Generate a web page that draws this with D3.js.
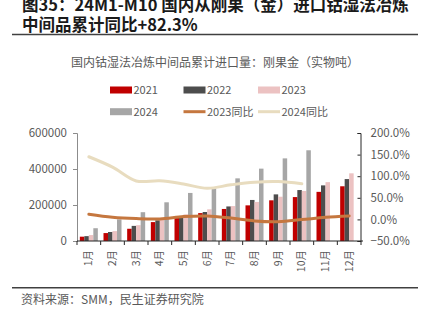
<!DOCTYPE html>
<html>
<head>
<meta charset="utf-8">
<script src="https://cdn.jsdelivr.net/npm/d3@7"></script>
<style>
  body { margin: 0; background: #fff; }
  svg { display: block; font-family: "Noto Sans CJK SC", "Noto Sans", sans-serif; }
</style>
</head>
<body>
<div id="chart"></div>
<script>
// months and values
const months = ["1月", "2月", "3月", "4月", "5月", "6月", "7月", "8月", "9月", "10月", "11月", "12月"];
const v2021 = [24000, 44000, 68000, 105000, 131000, 155000, 178000, 198000, 226000, 244000, 273000, 304000];
const v2022 = [27000, 50000, 84000, 115000, 139000, 161000, 192000, 228000, 259000, 283000, 309000, 344000];
const v2023 = [33000, 55000, 88000, 125000, 148000, 176000, 194000, 217000, 246000, 278000, 327000, 376000];
const v2024 = [71000, 120000, 160000, 215000, 267000, 292000, 348000, 402000, 459000, 504000, null, null];
const yoy2023 = [12, 5, 1.8, 1, 6.5, 8, 3, -3.5, -5.3, -0.5, 4.9, 8];
const yoy2024 = [145, 121, 89, 89.5, 82, 72, 80, 86, 87.5, 82.3, null, null];
const leftTicks = [0, 200000, 400000, 600000];
const rightTicks = [-50, 0, 50, 100, 150, 200];

const barKeys = ["2021", "2022", "2023", "2024"];
const barSeries = [v2021, v2022, v2023, v2024];
const barColors = ["#c00000", "#4d4d4d", "#ecc2c2", "#a6a6a6"];
const lineColors = { "2023同比": "#c5773f", "2024同比": "#e8dcbf" };

const W = 428, H = 328;
const plot = { left: 77, right: 361, top: 133, bottom: 241 };

const svg = d3.select("#chart").append("svg")
    .attr("width", W)
    .attr("height", H);

// title
svg.append("text")
    .attr("x", 22).attr("y", 11)
    .attr("font-size", 16.5).attr("font-weight", "bold").attr("fill", "#1a1a1a")
    .text("图35：24M1-M10 国内从刚果（金）进口钴湿法冶炼");
svg.append("text")
    .attr("x", 22).attr("y", 30.5)
    .attr("font-size", 16.5).attr("font-weight", "bold").attr("fill", "#1a1a1a")
    .text("中间品累计同比+82.3%");
svg.append("line")
    .attr("x1", 12).attr("x2", 418).attr("y1", 34.5).attr("y2", 34.5)
    .attr("stroke", "#404040").attr("stroke-width", 1.7);

// chart title
svg.append("text")
    .attr("x", 215).attr("y", 66.5)
    .attr("text-anchor", "middle")
    .attr("font-size", 12).attr("fill", "#595959")
    .text("国内钴湿法冶炼中间品累计进口量：刚果金（实物吨）");

// scales
const x = d3.scaleBand()
    .domain(months)
    .range([plot.left, plot.right])
    .padding(0);

const x1 = d3.scaleBand()
    .domain(barKeys)
    .range([0, x.bandwidth()])
    .paddingInner(0)
    .paddingOuter(0.63);

const y = d3.scaleLinear()
    .domain([0, 600000])
    .range([plot.bottom, plot.top]);

const y2 = d3.scaleLinear()
    .domain([-50, 200])
    .range([plot.bottom, plot.top]);

// bars
barSeries.forEach((vals, i) => {
    svg.append("g")
        .selectAll("rect")
        .data(months.map((m, j) => ({ m, v: vals[j] })).filter((d) => d.v != null))
        .enter()
        .append("rect")
        .attr("x", (d) => x(d.m) + x1(barKeys[i]))
        .attr("y", (d) => y(d.v))
        .attr("width", x1.bandwidth())
        .attr("height", (d) => y(0) - y(d.v))
        .attr("fill", barColors[i]);
});

// left axis
const yAxis = svg.append("g")
    .attr("transform", `translate(${plot.left},0)`)
    .call(d3.axisLeft(y).tickValues(leftTicks).tickSize(4).tickPadding(6).tickFormat(d3.format("d")));
yAxis.select(".domain").attr("stroke", "#8c8c8c");
yAxis.selectAll(".tick line").attr("stroke", "#8c8c8c");
yAxis.selectAll("text").attr("font-size", 11.5).attr("fill", "#595959")
    .attr("font-family", "Noto Sans CJK SC");

// right axis
const yAxis2 = svg.append("g")
    .attr("transform", `translate(${plot.right - 0.5},0)`)
    .call(d3.axisRight(y2).tickValues(rightTicks).tickSize(-3).tickPadding(10)
        .tickFormat((d) => d3.format(".1f")(d) + "%"));
yAxis2.select(".domain").attr("stroke", "#262626");
yAxis2.selectAll(".tick line").attr("stroke", "#262626");
yAxis2.selectAll("text").attr("font-size", 11.5).attr("fill", "#595959")
    .attr("font-family", "Noto Sans CJK SC");

// x axis with ticks on category boundaries
const xAxis = svg.append("g")
    .attr("transform", `translate(0,${plot.bottom})`);
xAxis.append("line")
    .attr("x1", plot.left).attr("x2", plot.right + 2)
    .attr("stroke", "#262626");
xAxis.selectAll(".bnd")
    .data(months.concat(["end"]))
    .enter()
    .append("line")
    .attr("x1", (d, i) => plot.left + i * x.step())
    .attr("x2", (d, i) => plot.left + i * x.step())
    .attr("y1", 0).attr("y2", 4)
    .attr("stroke", "#262626");
xAxis.selectAll(".lbl")
    .data(months)
    .enter()
    .append("text")
    .attr("transform", (d) => `translate(${x(d) + x.bandwidth() / 2 + 3.5},9) rotate(-90)`)
    .attr("text-anchor", "end")
    .attr("font-size", 10.5)
    .attr("fill", "#595959")
    .text((d) => d);

// lines
const line = d3.line()
    .defined((d) => d.v != null)
    .x((d) => x(d.m) + x.bandwidth() / 2)
    .y((d) => y2(d.v))
    .curve(d3.curveCatmullRom);

[["2024同比", yoy2024], ["2023同比", yoy2023]].forEach(([name, vals]) => {
    svg.append("path")
        .datum(months.map((m, j) => ({ m, v: vals[j] })))
        .attr("d", line)
        .attr("fill", "none")
        .attr("stroke", lineColors[name])
        .attr("stroke-width", 3)
        .attr("stroke-linecap", "round");
});

// legend
const legendItems = [
    { name: "2021", type: "bar", color: barColors[0], x: 110, y: 90 },
    { name: "2022", type: "bar", color: barColors[1], x: 183.5, y: 90 },
    { name: "2023", type: "bar", color: barColors[2], x: 258, y: 90 },
    { name: "2024", type: "bar", color: barColors[3], x: 110, y: 111.7 },
    { name: "2023同比", type: "line", color: lineColors["2023同比"], x: 183.5, y: 111.7 },
    { name: "2024同比", type: "line", color: lineColors["2024同比"], x: 258, y: 111.7 },
];
const legend = svg.append("g");
legendItems.forEach((d) => {
    if (d.type === "bar") {
        legend.append("rect")
            .attr("x", d.x).attr("y", d.y - 3.5)
            .attr("width", 22).attr("height", 7)
            .attr("fill", d.color);
    } else {
        legend.append("line")
            .attr("x1", d.x).attr("x2", d.x + 22)
            .attr("y1", d.y).attr("y2", d.y)
            .attr("stroke", d.color).attr("stroke-width", 3);
    }
    legend.append("text")
        .attr("x", d.x + 23.5).attr("y", d.y + 4)
        .attr("font-size", 11).attr("fill", "#595959")
        .text(d.name);
});

// footer
svg.append("line")
    .attr("x1", 12).attr("x2", 418).attr("y1", 287.7).attr("y2", 287.7)
    .attr("stroke", "#404040").attr("stroke-width", 1.5);
svg.append("text")
    .attr("x", 21).attr("y", 304)
    .attr("font-size", 12).attr("fill", "#595959")
    .text("资料来源：SMM，民生证券研究院");
</script>
</body>
</html>
